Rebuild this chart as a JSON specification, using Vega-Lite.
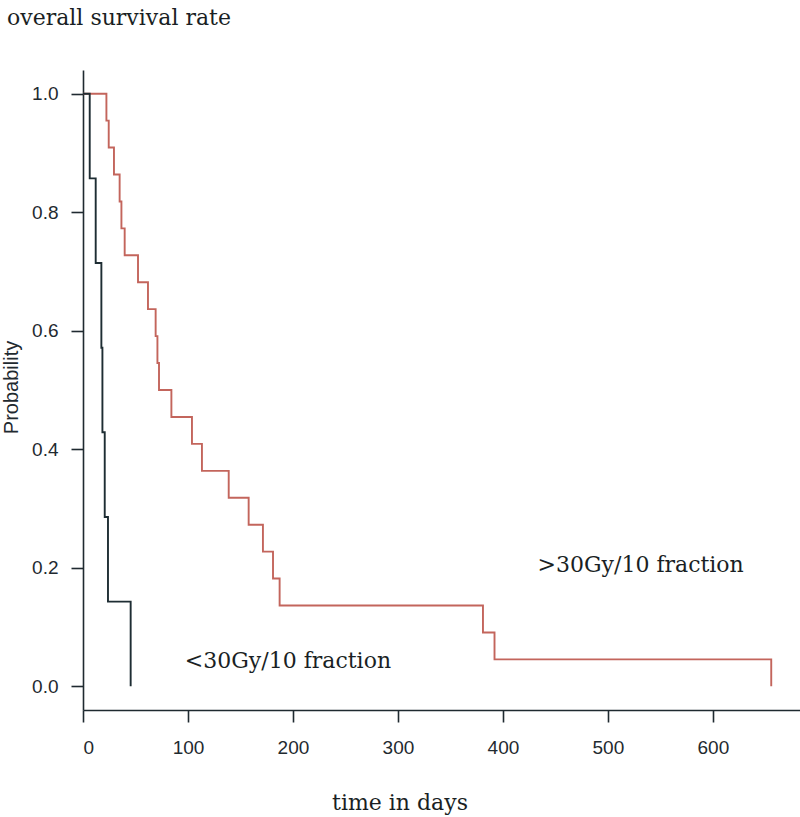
{
  "$schema": "https://vega.github.io/schema/vega-lite/v6.json",
  "width": 717,
  "height": 640,
  "autosize": {"type": "none"},
  "padding": {"left": 83, "top": 70, "right": 0, "bottom": 107},
  "background": "white",
  "title": {
    "text": "overall survival rate",
    "anchor": "start",
    "frame": "group",
    "font": "DejaVu Serif",
    "fontSize": 22,
    "fontWeight": "normal",
    "color": "#1a1f24",
    "baseline": "alphabetic",
    "offset": 23,
    "dx": -76
  },
  "datasets": {
    "curves": [
      {"group": ">30Gy/10 fraction", "time": 0, "surv": 1.0},
      {"group": ">30Gy/10 fraction", "time": 22.3, "surv": 0.9545},
      {"group": ">30Gy/10 fraction", "time": 24.5, "surv": 0.9091},
      {"group": ">30Gy/10 fraction", "time": 29.5, "surv": 0.8636},
      {"group": ">30Gy/10 fraction", "time": 34.9, "surv": 0.8182},
      {"group": ">30Gy/10 fraction", "time": 36.6, "surv": 0.7727},
      {"group": ">30Gy/10 fraction", "time": 39.7, "surv": 0.7273},
      {"group": ">30Gy/10 fraction", "time": 52.4, "surv": 0.6818},
      {"group": ">30Gy/10 fraction", "time": 61.9, "surv": 0.6364},
      {"group": ">30Gy/10 fraction", "time": 69.2, "surv": 0.5909},
      {"group": ">30Gy/10 fraction", "time": 70.9, "surv": 0.5455},
      {"group": ">30Gy/10 fraction", "time": 72.4, "surv": 0.5},
      {"group": ">30Gy/10 fraction", "time": 84.2, "surv": 0.4545},
      {"group": ">30Gy/10 fraction", "time": 103.8, "surv": 0.4091},
      {"group": ">30Gy/10 fraction", "time": 113.3, "surv": 0.3636},
      {"group": ">30Gy/10 fraction", "time": 138.8, "surv": 0.3182},
      {"group": ">30Gy/10 fraction", "time": 157.8, "surv": 0.2727},
      {"group": ">30Gy/10 fraction", "time": 171.4, "surv": 0.2273},
      {"group": ">30Gy/10 fraction", "time": 181, "surv": 0.1818},
      {"group": ">30Gy/10 fraction", "time": 187.3, "surv": 0.1364},
      {"group": ">30Gy/10 fraction", "time": 381, "surv": 0.0909},
      {"group": ">30Gy/10 fraction", "time": 392, "surv": 0.0455},
      {"group": ">30Gy/10 fraction", "time": 655.6, "surv": 0.0},
      {"group": "<30Gy/10 fraction", "time": 0, "surv": 1.0},
      {"group": "<30Gy/10 fraction", "time": 6.4, "surv": 0.8571},
      {"group": "<30Gy/10 fraction", "time": 12.1, "surv": 0.7143},
      {"group": "<30Gy/10 fraction", "time": 17.5, "surv": 0.5714},
      {"group": "<30Gy/10 fraction", "time": 18.5, "surv": 0.4286},
      {"group": "<30Gy/10 fraction", "time": 20.7, "surv": 0.2857},
      {"group": "<30Gy/10 fraction", "time": 23.8, "surv": 0.1429},
      {"group": "<30Gy/10 fraction", "time": 45.4, "surv": 0.0}
    ],
    "labels": [
      {"group": ">30Gy/10 fraction", "time": 433, "surv": 0.193},
      {"group": "<30Gy/10 fraction", "time": 97, "surv": 0.0304}
    ]
  },
  "layer": [
    {
      "data": {"name": "curves"},
      "mark": {"type": "line", "interpolate": "step-after", "strokeWidth": 1.9},
      "encoding": {
        "x": {
          "field": "time",
          "type": "quantitative",
          "scale": {"domain": [0, 683], "nice": false, "zero": false},
          "axis": {
            "values": [0, 100, 200, 300, 400, 500, 600],
            "title": "time in days",
            "titleFont": "DejaVu Serif",
            "titleFontSize": 22,
            "titleFontWeight": "normal",
            "titleColor": "#1a1f24",
            "titleX": 316.5,
            "titleY": 99,
            "titleAlign": "center",
            "titleBaseline": "alphabetic",
            "labelFont": "Liberation Sans",
            "labelFontSize": 19,
            "labelColor": "#1f2a30",
            "labelPadding": 16,
            "tickSize": 12,
            "tickWidth": 1.6,
            "tickColor": "#1f2a30",
            "domainColor": "#1f2a30",
            "domainWidth": 1.6,
            "grid": false
          }
        },
        "y": {
          "field": "surv",
          "type": "quantitative",
          "scale": {"domain": [-0.04, 1.04], "nice": false, "zero": false},
          "axis": {
            "values": [0, 0.2, 0.4, 0.6, 0.8, 1.0],
            "format": ".1f",
            "title": "Probability",
            "titleFont": "Liberation Sans",
            "titleFontSize": 20,
            "titleFontWeight": "normal",
            "titleColor": "#1f2a30",
            "titleX": -71.5,
            "titleY": 317,
            "titleAngle": -90,
            "titleAlign": "center",
            "titleBaseline": "middle",
            "labelFont": "Liberation Sans",
            "labelFontSize": 19,
            "labelColor": "#1f2a30",
            "labelPadding": 13,
            "tickSize": 12,
            "tickWidth": 1.6,
            "tickColor": "#1f2a30",
            "domainColor": "#1f2a30",
            "domainWidth": 1.6,
            "grid": false
          }
        },
        "color": {
          "field": "group",
          "type": "nominal",
          "scale": {"domain": [">30Gy/10 fraction", "<30Gy/10 fraction"], "range": ["#c3655c", "#1e2d33"]},
          "legend": null
        }
      }
    },
    {
      "data": {"name": "labels"},
      "mark": {"type": "text", "font": "DejaVu Serif", "fontSize": 22, "align": "left", "baseline": "alphabetic", "color": "#1a1f24"},
      "encoding": {
        "x": {"field": "time", "type": "quantitative"},
        "y": {"field": "surv", "type": "quantitative"},
        "text": {"field": "group", "type": "nominal"}
      }
    }
  ],
  "config": {"view": {"stroke": null}}
}
